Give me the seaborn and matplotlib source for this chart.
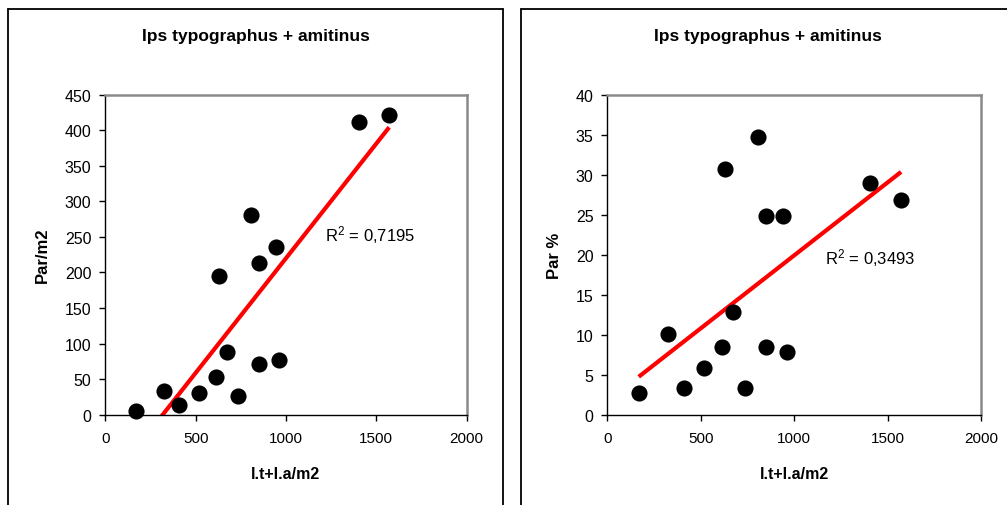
import matplotlib
matplotlib.use("Agg")
import matplotlib.pyplot as plt
from matplotlib.lines import Line2D
import seaborn as sns
import numpy as np
import pandas as pd

# ---- data ----
density = [168, 325, 408, 516, 611, 629, 672, 737, 807, 851, 851, 942, 963, 1405, 1571]
par_m2 = [5.6, 34, 14, 30, 53, 195, 88, 26, 281, 213, 72, 236, 77, 411, 422]
par_pct = [2.7, 10.1, 3.3, 5.9, 8.5, 30.7, 12.9, 3.3, 34.7, 24.9, 8.5, 24.9, 7.9, 29.0, 26.9]

title = "Ips typographus + amitinus"
xlabel = "l.t+l.a/m2"
ylabels = ["Par/m2", "Par %"]
r2_labels = ["0,7195", "0,3493"]
xticks = [0, 500, 1000, 1500, 2000]
yticks_left = [0, 50, 100, 150, 200, 250, 300, 350, 400, 450]
yticks_right = [0, 5, 10, 15, 20, 25, 30, 35, 40]

df = pd.DataFrame({"x": density, "par_m2": par_m2, "par_pct": par_pct})

sns.set_theme(style="white")
plt.rcParams["font.family"] = ["Liberation Sans", "DejaVu Sans"]
plt.rcParams["mathtext.fontset"] = "custom"
plt.rcParams["mathtext.rm"] = "Liberation Sans"
plt.rcParams["text.color"] = "black"
plt.rcParams["axes.labelcolor"] = "black"

W, H = 1007, 506
fig = plt.figure(figsize=(W / 100, H / 100), dpi=100)
fig.patch.set_facecolor("white")

def fx(px):
    return px / W

def fy(py):
    return 1 - py / H

# chart-area frames
for seg in [((8, 8), (10, 520)), ((8, 503), (10, 10)), ((503, 503), (10, 520)),
            ((520.5, 520.5), (10, 520)), ((520.5, 1010), (10, 10))]:
    (xa, xb), (ya, yb) = seg
    fig.add_artist(Line2D([fx(xa), fx(xb)], [fy(ya), fy(yb)], color="black", lw=1.3,
                          transform=fig.transFigure))

panels = [
    dict(col="par_m2", left=105.3, right=466.7, ylim=(0, 450), yticks=yticks_left,
         ylabel=ylabels[0], ylab_x=-0.153, r2=r2_labels[0], r2_xy=(1216, 254), tcx=256),
    dict(col="par_pct", left=607.3, right=981.3, ylim=(0, 40), yticks=yticks_right,
         ylabel=ylabels[1], ylab_x=-0.120, r2=r2_labels[1], r2_xy=(1164, 19.7), tcx=768),
]

top_px, bot_px = 95.7, 415.7
for p in panels:
    ax = fig.add_axes([fx(p["left"]), fy(bot_px), (p["right"] - p["left"]) / W,
                       (bot_px - top_px) / H])
    sns.regplot(data=df, x="x", y=p["col"], ax=ax, ci=None, truncate=True,
                scatter_kws=dict(s=135, color="black", linewidths=0, alpha=1,
                                 clip_on=False, zorder=3),
                line_kws=dict(color="#ff0000", lw=3, solid_capstyle="butt", zorder=2))
    ax.set_xlim(0, 2000)
    ax.set_ylim(*p["ylim"])
    ax.set_xticks(xticks)
    ax.set_yticks(p["yticks"])
    ax.set_xticklabels([str(t) for t in xticks])
    ax.set_yticklabels([str(t) for t in p["yticks"]])
    ax.tick_params(axis="both", which="both", direction="out", length=4, width=1,
                   color="black", labelsize=11.5, labelcolor="black")
    ax.tick_params(axis="y", pad=6, left=True)
    ax.tick_params(axis="x", pad=8, bottom=True, labelsize=11)
    for s in ["left", "bottom"]:
        ax.spines[s].set_color("black")
        ax.spines[s].set_linewidth(1)
    for s in ["top", "right"]:
        ax.spines[s].set_color("#8a8a8a")
        ax.spines[s].set_linewidth(1.8)
    ax.set_xlabel(xlabel, fontsize=11.5, fontweight="bold", color="black")
    ax.set_ylabel(p["ylabel"], fontsize=12, fontweight="bold", color="black")
    ax.xaxis.set_label_coords(0.5, -0.159)
    ax.yaxis.set_label_coords(p["ylab_x"], 0.5)
    ax.text(p["r2_xy"][0], p["r2_xy"][1], "R$\\mathregular{^2}$ = " + p["r2"],
            fontsize=12, ha="left", va="center", color="black")
    fig.text(fx(p["tcx"]), fy(37), title, fontsize=12.5, fontweight="bold",
             ha="center", va="center", color="black")

fig.savefig("out.png", dpi=100, facecolor="white")
